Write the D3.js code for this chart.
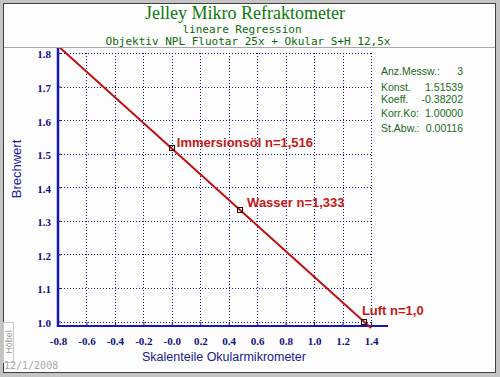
<!doctype html>
<html lang="de">
<head>
<meta charset="utf-8">
<title>Jelley Mikro Refraktometer</title>
<script src="https://cdnjs.cloudflare.com/ajax/libs/d3/7.8.5/d3.min.js"></script>
<style>
  body { margin: 0; background: #c4c4c4; }
  svg { display: block; }
</style>
</head>
<body>
<svg width="500" height="377" id="svg"></svg>
<script>
// Werte aus dem Bild
var xTicks = [-0.8, -0.6, -0.4, -0.2, 0.0, 0.2, 0.4, 0.6, 0.8, 1.0, 1.2, 1.4];
var xTickLabels = ['-0.8','-0.6','-0.4','-0.2','-0.0','0.2','0.4','0.6','0.8','1.0','1.2','1.4'];
var yTicks = [1.0, 1.1, 1.2, 1.3, 1.4, 1.5, 1.6, 1.7, 1.8];
var yTickLabels = ['1.0','1.1','1.2','1.3','1.4','1.5','1.6','1.7','1.8'];

var pointNames = ['Immersionsöl n=1,516', 'Wasser n=1,333', 'Luft n=1,0'];
var pointX = [0.0, 0.48, 1.35];
var pointY = [1.516, 1.333, 1.0];

// Regressionsgerade (Endpunkte)
var lineX = [-0.8, 1.4];
var lineY = [1.821, 0.9806];

var statLabels = ['Anz.Messw.:', 'Konst.', 'Koeff.', 'Korr.Ko:', 'St.Abw.:'];
var statValues = ['3', '1.51539', '-0.38202', '1.00000', '0.00116'];

var svg = d3.select('#svg');

// Rahmen
svg.append('rect').attr('x', 3.5).attr('y', 3.5).attr('width', 492).attr('height', 369)
  .attr('fill', '#fdfdfd').attr('stroke', '#404040');
svg.append('line').attr('x1', 4).attr('x2', 495).attr('y1', 47.5).attr('y2', 47.5)
  .attr('stroke', '#a8a8a8');

// Titel
svg.append('text').attr('x', 245).attr('y', 18.5).attr('text-anchor', 'middle')
  .style('font-family', '"Liberation Serif", serif').style('font-size', '18px')
  .attr('fill', '#0b7a0b').text('Jelley Mikro Refraktometer');
svg.append('text').attr('x', 242).attr('y', 32.5).attr('text-anchor', 'middle')
  .style('font-family', '"DejaVu Sans Mono", monospace').style('font-size', '11px')
  .attr('fill', '#0a6a0a').text('lineare Regression');
svg.append('text').attr('x', 248).attr('y', 45).attr('text-anchor', 'middle')
  .style('font-family', '"DejaVu Sans Mono", monospace').style('font-size', '11px')
  .attr('fill', '#0a6a0a').text('Objektiv NPL Fluotar 25x + Okular S+H 12,5x');

var x = d3.scaleLinear().domain([-0.8, 1.4]).range([58, 371]);
var y = d3.scaleLinear().domain([1.0, 1.8]).range([321.5, 53]);
var axisY = 326;

// Gitter
svg.append('g').selectAll('line').data(yTicks).enter().append('line')
  .attr('x1', x(-0.8)).attr('x2', x(1.4))
  .attr('y1', function(d) { return Math.round(y(d)) + 0.5; })
  .attr('y2', function(d) { return Math.round(y(d)) + 0.5; })
  .attr('stroke', '#101090').attr('stroke-dasharray', '1,2');
svg.append('g').selectAll('line').data(xTicks.slice(1)).enter().append('line')
  .attr('x1', function(d) { return Math.round(x(d)) + 0.5; })
  .attr('x2', function(d) { return Math.round(x(d)) + 0.5; })
  .attr('y1', y(1.8)).attr('y2', y(1.0))
  .attr('stroke', '#101090').attr('stroke-dasharray', '1,2');

// Achsen
var xAxis = d3.axisTop(x).tickValues(xTicks).tickSize(4).tickSizeOuter(0)
  .tickFormat(function(d, i) { return xTickLabels[i]; });
var gx = svg.append('g').attr('transform', 'translate(0,' + axisY + ')').call(xAxis);
gx.select('.domain').remove();
gx.selectAll('.tick line').attr('stroke', '#101090');
gx.selectAll('.tick text').attr('y', 19).attr('dy', 0)
  .attr('fill', '#101080')
  .style('font-family', '"Liberation Serif", serif').style('font-weight', 'bold').style('font-size', '11px');
svg.append('line').attr('x1', 57).attr('x2', 388).attr('y1', axisY).attr('y2', axisY)
  .attr('stroke', '#1818b0').attr('stroke-width', 2);

var yAxis = d3.axisRight(y).tickValues(yTicks).tickSize(3).tickSizeOuter(0)
  .tickFormat(function(d, i) { return yTickLabels[i]; });
var gy = svg.append('g').attr('transform', 'translate(58,0)').call(yAxis);
gy.select('.domain').remove();
gy.selectAll('.tick line').attr('stroke', '#101090');
gy.selectAll('.tick text').attr('x', -7).attr('dy', '0.45em').attr('text-anchor', 'end')
  .attr('fill', '#101080')
  .style('font-family', '"Liberation Serif", serif').style('font-weight', 'bold').style('font-size', '11px');
svg.append('line').attr('x1', 58).attr('x2', 58).attr('y1', 48).attr('y2', axisY + 1)
  .attr('stroke', '#1818b0').attr('stroke-width', 2.5);

// Achsentitel
svg.append('text').attr('x', 224).attr('y', 361).attr('text-anchor', 'middle')
  .style('font-family', '"Liberation Sans", Arial, sans-serif').style('font-size', '12.5px')
  .attr('fill', '#1a1a90').text('Skalenteile Okularmikrometer');
svg.append('text').attr('transform', 'translate(21,169) rotate(-90)').attr('text-anchor', 'middle')
  .style('font-family', '"Liberation Sans", Arial, sans-serif').style('font-size', '13px')
  .attr('fill', '#1a1aa0').text('Brechwert');

// Regressionsgerade
svg.append('clipPath').attr('id', 'clip').append('rect')
  .attr('x', 4).attr('y', 48).attr('width', 490).attr('height', 324);
var line = d3.line().x(function(d) { return x(d[0]); }).y(function(d) { return y(d[1]); });
svg.append('path').datum(d3.zip(lineX, lineY)).attr('d', line)
  .attr('clip-path', 'url(#clip)')
  .attr('fill', 'none').attr('stroke', '#c01010').attr('stroke-width', 2);

// Messpunkte
var pts = d3.zip(pointX, pointY, pointNames);
svg.append('g').selectAll('rect').data(pts).enter().append('rect')
  .attr('x', function(d) { return Math.round(x(d[0])) - 2.5; })
  .attr('y', function(d) { return Math.round(y(d[1])) - 2.5; })
  .attr('width', 5).attr('height', 5)
  .attr('fill', 'none').attr('stroke', '#200000').attr('stroke-width', 1);

var labelDx = [5, 7, -2];
var labelDy = [-1, -3, -7];
svg.append('g').selectAll('text').data(pts).enter().append('text')
  .attr('x', function(d, i) { return x(d[0]) + labelDx[i]; })
  .attr('y', function(d, i) { return y(d[1]) + labelDy[i]; })
  .style('font-family', '"Liberation Sans", Arial, sans-serif').style('font-weight', 'bold').style('font-size', '13px')
  .attr('fill', '#c41818').text(function(d) { return d[2]; });

// Statistik
var stats = svg.append('g')
  .style('font-family', '"Liberation Sans", Arial, sans-serif').style('font-size', '10.5px')
  .attr('fill', '#1a6a1a');
var statBase = [75, 90.5, 103, 116.5, 132];
stats.selectAll('text.l').data(statLabels).enter().append('text').attr('class', 'l')
  .attr('x', 381).attr('y', function(d, i) { return statBase[i]; }).text(function(d) { return d; });
stats.selectAll('text.v').data(statValues).enter().append('text').attr('class', 'v')
  .attr('x', 463).attr('y', function(d, i) { return statBase[i]; }).attr('text-anchor', 'end')
  .text(function(d) { return d; });

// Fusszeile
svg.append('rect').attr('x', 3.5).attr('y', 322.5).attr('width', 10).attr('height', 40)
  .attr('fill', 'none').attr('stroke', '#c8c8c8');
svg.append('text').attr('transform', 'translate(12,342) rotate(-90)').attr('text-anchor', 'middle')
  .style('font-family', '"Liberation Sans", Arial, sans-serif').style('font-size', '9px')
  .attr('fill', '#999').text('Höbel');
svg.append('text').attr('x', 4).attr('y', 369)
  .style('font-family', '"DejaVu Sans Mono", monospace').style('font-size', '10px')
  .attr('fill', '#aaa').text('12/1/2008');
</script>
</body>
</html>
